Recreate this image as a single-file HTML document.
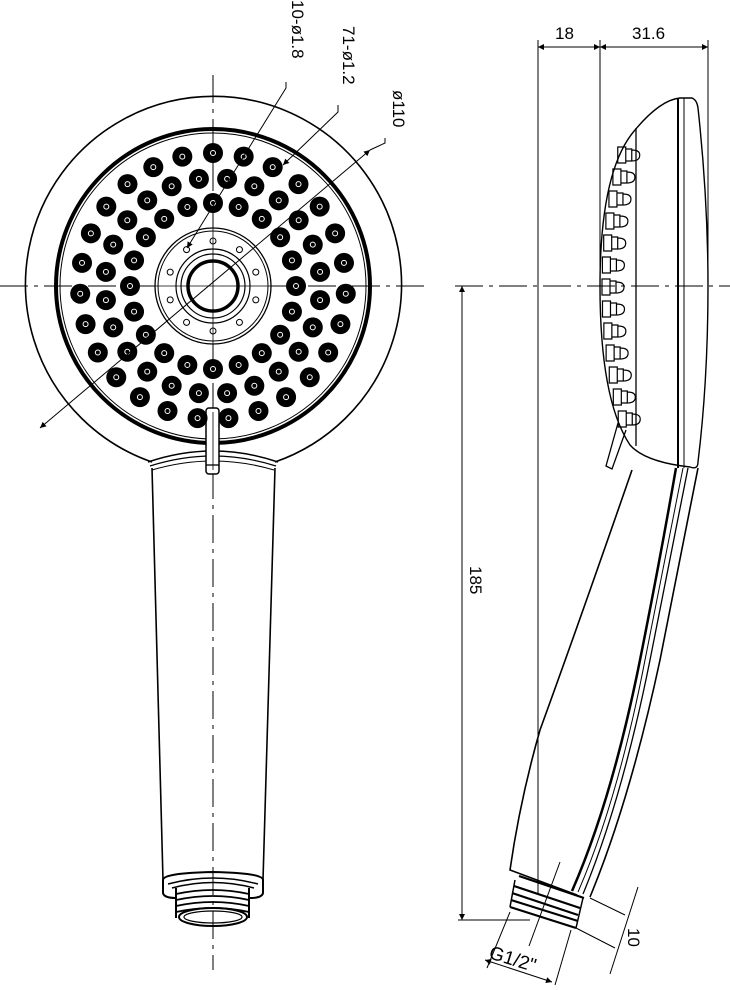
<!DOCTYPE html>
<html><head><meta charset="utf-8"><style>
html,body{margin:0;padding:0;background:#fff;}
svg{display:block;font-family:"Liberation Sans",sans-serif;}
</style></head><body>
<svg id="s" width="730" height="990" viewBox="0 0 730 990" xmlns="http://www.w3.org/2000/svg" fill="none" stroke="#000" stroke-width="1.3">
<defs>
<marker id="a" viewBox="0 0 10 10" refX="10" refY="5" markerWidth="12" markerHeight="6" orient="auto-start-reverse" markerUnits="userSpaceOnUse"><path d="M0,0 L10,5 L0,10z" fill="#000" stroke="none"/></marker>
</defs>
<g stroke-dasharray="28,6,4,6" stroke-width="1">
<line x1="213" y1="75" x2="213" y2="970"/>
<line x1="0" y1="286" x2="425" y2="286"/>
<line x1="455" y1="286" x2="730" y2="286"/>
</g>
<path d="M152,462 A188,188 0 1 1 275,462" stroke-width="1.6"/>
<circle cx="213" cy="286" r="157" stroke-width="4"/>
<circle cx="213" cy="286" r="153" stroke-width="1"/>
<path d="M148,462 Q213,440 278,462" stroke-width="1.5"/>
<path d="M150,466 Q213,446 276,466" stroke-width="1.2"/>
<path d="M152,470 Q213,452 274,470" stroke-width="1"/>
<path d="M152,468 L163,880 M275,468 L263,880" stroke-width="1.6"/>
<path d="M163,880 Q163,873 213,872 Q263,873 263,880 L263,893 Q262,898 250,898 M163,880 L163,893 Q164,898 176,898" stroke-width="2"/>
<path d="M168,884 Q213,872 258,884 M172,888 Q213,877 254,888" stroke-width="1.5"/>
<path d="M176,888 L176,918 M249,888 L249,918" stroke-width="2"/>
<path d="M176,894 Q213,886 249,894 M176,900 Q213,892 249,900 M176,906 Q213,898 249,906 M176,912 Q213,904 249,912" stroke-width="1.8"/>
<ellipse cx="213" cy="917" rx="34" ry="9" stroke-width="2"/>
<ellipse cx="213" cy="917" rx="29" ry="6" stroke-width="1.2"/>
<rect x="206" y="408" width="13" height="66" rx="3" stroke-width="1.5" fill="#fff"/>
<line x1="206" y1="465" x2="219" y2="465"/>
<line x1="213" y1="412" x2="213" y2="470" stroke-width="0.8"/>
<g id="noz"></g>
<circle cx="213" cy="286" r="58" stroke-width="1.3" fill="#fff"/>
<circle cx="213" cy="286" r="55" stroke-width="1"/>
<circle cx="213" cy="286" r="37" stroke-width="1.2"/>
<circle cx="213" cy="286" r="32" stroke-width="1.2"/>
<circle cx="213" cy="286" r="25" stroke-width="3.5"/>
<g id="holes" stroke-width="1"></g>
<line x1="213" y1="228" x2="213" y2="344" stroke-width="0.8"/>
<line x1="155" y1="286" x2="271" y2="286" stroke-width="0.8"/>
<line x1="370" y1="150" x2="40" y2="428" stroke-width="1" marker-start="url(#a)" marker-end="url(#a)"/>
<polyline points="385,138 385,143 370,150" stroke-width="1"/>
<polyline points="286,82 286,88 187,248" stroke-width="1" marker-end="url(#a)"/>
<polyline points="338,105 338,112 283,165" stroke-width="1" marker-end="url(#a)"/>
<g fill="#000" stroke="none" font-size="17">
<text transform="translate(292,0) rotate(90)">10-ø1.8</text>
<text transform="translate(343,26) rotate(90)">71-ø1.2</text>
<text transform="translate(393,90) rotate(90)">ø110</text>
<text x="555" y="39">18</text>
<text x="632" y="39">31.6</text>
<text transform="translate(470,566) rotate(90)">185</text>
<text transform="translate(628,928) rotate(90)">10</text>
<text transform="translate(488,958) rotate(17)" font-size="19">G1/2"</text>
</g>
<g stroke-width="1">
<line x1="538" y1="40" x2="538" y2="895"/>
<line x1="600" y1="40" x2="600" y2="290"/>
<line x1="708" y1="40" x2="708" y2="290"/>
<line x1="538" y1="47" x2="600" y2="47" marker-start="url(#a)" marker-end="url(#a)"/>
<line x1="600" y1="47" x2="708" y2="47" marker-start="url(#a)" marker-end="url(#a)"/>
<line x1="462" y1="286" x2="462" y2="920" marker-start="url(#a)" marker-end="url(#a)"/>
<line x1="458" y1="920" x2="530" y2="920"/>
</g>
<path d="M600,286 Q600,170 635,130 Q660,100 680,98 L692,98 Q697,100 698,108 Q708,200 708,286" stroke-width="1.4"/>
<path d="M600,286 Q600,400 630,445 Q645,462 690,467 Q698,470 698,462 Q708,380 708,286" stroke-width="1.4"/>
<line x1="636" y1="128" x2="636" y2="446" stroke-width="1.3"/>
<line x1="678" y1="98" x2="678" y2="468" stroke-width="2"/>
<line x1="684" y1="98" x2="684" y2="468" stroke-width="1"/>
<g id="sn" stroke-width="1.2"></g>
<path d="M618,423 L606,466 L612,469 L626,430" stroke-width="1.3"/>
<path d="M632,470 Q580,620 540,730 Q520,800 510,870 L577,895" stroke-width="1.6"/>
<path d="M698,468 Q680,560 660,660 Q630,800 590,897" stroke-width="1.6"/>
<path d="M688,468 Q670,560 650,660 Q622,800 583,894" stroke-width="1.3"/>
<path d="M683,468 Q665,560 645,660 Q618,800 578,892" stroke-width="1"/>
<path d="M676,468 Q660,560 640,660 Q612,800 572,891" stroke-width="2.5"/>
<path d="M519,876 L584,898 M514,886 L580,908 M512,893 L578,915 M511,900 L578,921 M510,907 L576,928" stroke-width="2.2"/>
<path d="M515,880 L510,907 M583,898 L576,928" stroke-width="1.5"/>
<line x1="560" y1="862" x2="529" y2="946" stroke-width="1"/>
<g stroke-width="1">
<line x1="590" y1="898" x2="625" y2="915"/>
<line x1="576" y1="928" x2="615" y2="948"/>
<line x1="638" y1="887" x2="610" y2="974"/>
<line x1="510" y1="912" x2="487" y2="968"/>
<line x1="571" y1="930" x2="555" y2="985"/>
<line x1="485" y1="960" x2="552" y2="982" marker-start="url(#a)" marker-end="url(#a)"/>
</g>
</svg>
<script>
var ns="http://www.w3.org/2000/svg",g=document.getElementById('noz'),cx=213,cy=286;
function c(p,x,y,r,a){var e=document.createElementNS(ns,'circle');e.setAttribute('cx',x);e.setAttribute('cy',y);e.setAttribute('r',r);for(var k in a)e.setAttribute(k,a[k]);p.appendChild(e);}
[[83,20,0],[108,24,7.5],[133,27,0]].forEach(function(R){for(var i=0;i<R[1];i++){var t=(i*360/R[1]+R[2]-90)*Math.PI/180,x=cx+R[0]*Math.cos(t),y=cy+R[0]*Math.sin(t);if(y>380&&Math.abs(x-cx)<14)continue;c(g,x,y,10,{fill:'#000',stroke:'none'});c(g,x,y,2.5,{fill:'none',stroke:'#fff','stroke-width':1});}});
var h=document.getElementById('holes');for(var i=0;i<10;i++){var t=i*36*Math.PI/180;c(h,cx+45*Math.sin(t),cy-45*Math.cos(t),3,{fill:'#fff'});}
var s=document.getElementById('sn');
for(var y=155;y<=420;y+=22){var off=Math.pow((y-286)/140,2)*18;var x=602+off;var r=document.createElementNS(ns,'path');r.setAttribute('d','M'+x+','+(y-8)+' h8 v16 h-8 z M'+(x+8)+','+(y-6)+' h6 v12 h-6 M'+(x+14)+','+(y-5)+' q8,0 8,5 q0,6 -8,6');s.appendChild(r);}
</script>
</body></html>
